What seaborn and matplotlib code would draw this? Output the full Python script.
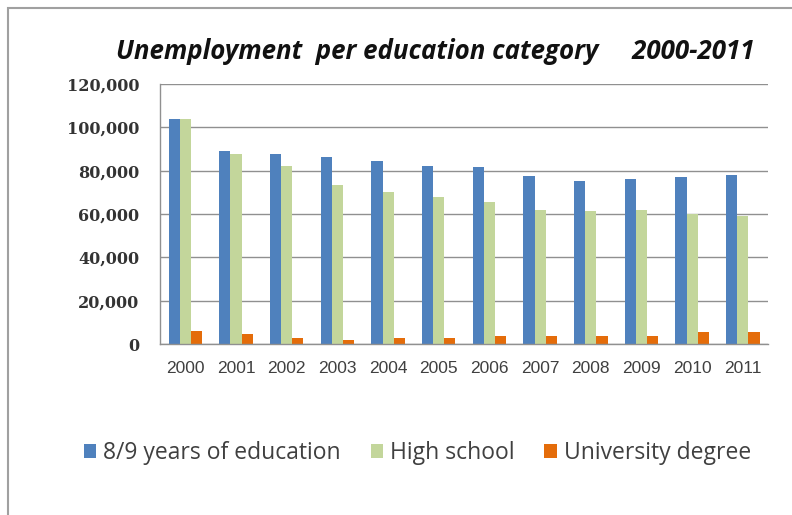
import pandas as pd
import seaborn as sns
import matplotlib.pyplot as plt
from matplotlib.patches import Rectangle
from matplotlib.ticker import FuncFormatter, MultipleLocator

years = ["2000", "2001", "2002", "2003", "2004", "2005",
         "2006", "2007", "2008", "2009", "2010", "2011"]
basic_edu = [104000, 89000, 87500, 86500, 84500, 82000,
             81500, 77500, 75000, 76000, 77000, 78000]
high_school = [104000, 87500, 82000, 73500, 70000, 68000,
               65500, 62000, 61500, 62000, 60000, 59000]
university = [6000, 4500, 3000, 2000, 3000, 2800,
              3500, 3500, 3500, 3500, 5500, 5500]
series_names = ["8/9 years of education", "High school", "University degree"]

df = pd.DataFrame({
    "year": years * 3,
    "value": basic_edu + high_school + university,
    "group": [series_names[0]] * 12 + [series_names[1]] * 12 + [series_names[2]] * 12,
})

sns.set_style("white")
fig = plt.figure(figsize=(7.92, 5.15), dpi=100)
ax = fig.add_axes([0.202, 0.332, 0.768, 0.505])

colors = ["#4F81BD", "#C3D69B", "#E46C0A"]
sns.barplot(data=df, x="year", y="value", hue="group", palette=colors,
            width=0.66, saturation=1, linewidth=0, ax=ax, legend=True)

ax.set_ylim(0, 120000)
ax.set_xlim(-0.5, 11.5)
ax.yaxis.set_major_locator(MultipleLocator(20000))
ax.yaxis.set_major_formatter(FuncFormatter(lambda v, p: f"{int(v):,}"))
ax.grid(axis="y", color="#909090", linewidth=1)
ax.set_axisbelow(True)
ax.set_xlabel("")
ax.set_ylabel("")
for s in ["top", "right"]:
    ax.spines[s].set_visible(False)
for s in ["left", "bottom"]:
    ax.spines[s].set_color("#909090")
    ax.spines[s].set_linewidth(1)

ax.set_xticks([i + 0.5 for i in range(-1, 12)], minor=True)
ax.tick_params(axis="x", which="major", length=0, pad=12, labelsize=12.5, labelcolor="#404040")
ax.tick_params(axis="x", which="minor", length=4, color="#909090", direction="out")
ax.tick_params(axis="y", length=4, color="#909090", direction="out", pad=11)
for lab in ax.get_xticklabels():
    lab.set_fontfamily("Liberation Sans")
for lab in ax.get_yticklabels():
    lab.set_fontfamily("DejaVu Serif")
    lab.set_fontweight("bold")
    lab.set_fontsize(11.5)
    lab.set_color("#333333")

ax.get_legend().remove()
handles, labels = ax.get_legend_handles_labels()
fig.legend(handles[:3], labels[:3], loc="center", bbox_to_anchor=(0.527, 0.12),
           ncol=3, frameon=False, prop={"family": "Open Sans", "size": 16.5},
           handlelength=0.55, handleheight=0.55, handletextpad=0.3, columnspacing=1.3,
           labelcolor="#404040")

fig.text(0.55, 0.90, "Unemployment  per education category     2000-2011",
         ha="center", va="center", fontsize=18.6, style="italic", fontweight="bold",
         family="Open Sans", color="#111111")

# chart frame (cropped at right and bottom)
fig.add_artist(Rectangle((8 / 792, -0.1), 1.2, 1 - 8 / 515 + 0.1,
                         transform=fig.transFigure, fill=False,
                         edgecolor="#a0a0a0", linewidth=1.5))

fig.savefig("out.png", dpi=100)
